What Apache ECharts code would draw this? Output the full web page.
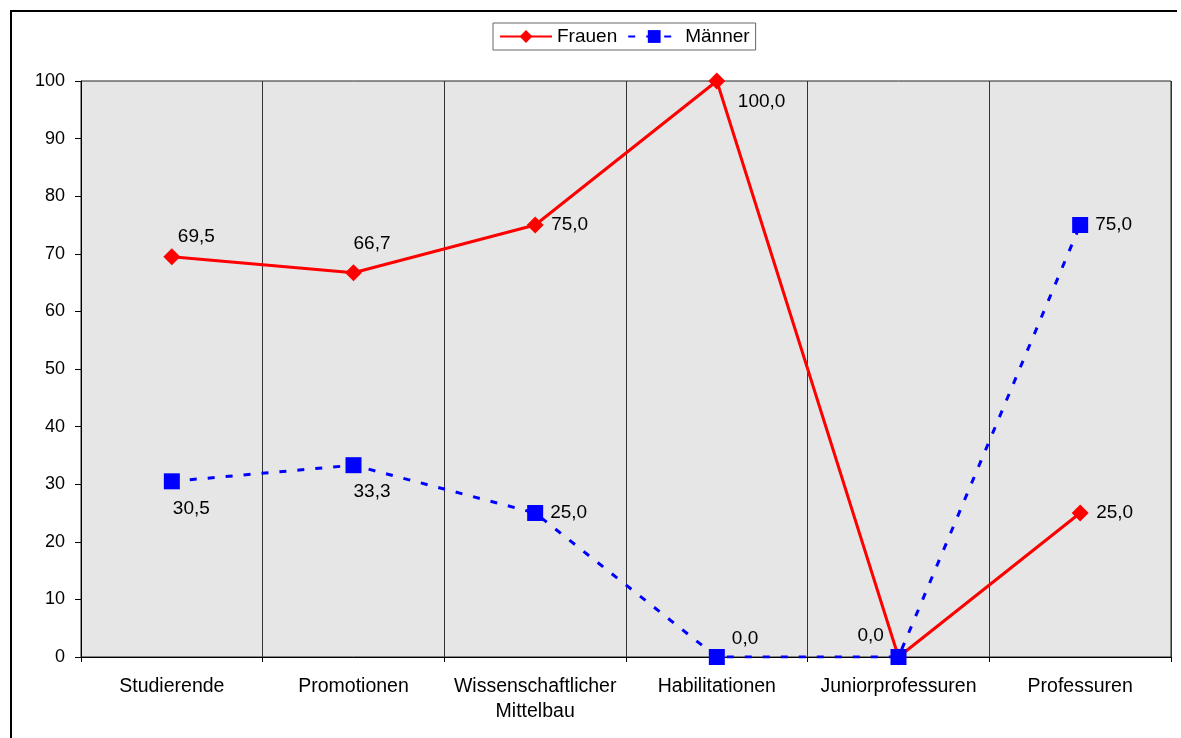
<!DOCTYPE html>
<html>
<head>
<meta charset="utf-8">
<script src="https://cdn.jsdelivr.net/npm/echarts@6/dist/echarts.min.js"></script>
<style>
  html, body { margin: 0; padding: 0; background: #fff; }
  #chart { width: 1181px; height: 738px; }
</style>
</head>
<body>
<div id="chart"></div>
<script>
// Share of women and men by qualification level (percent)
const categories = ['Studierende', 'Promotionen', 'Wissenschaftlicher\nMittelbau', 'Habilitationen', 'Juniorprofessuren', 'Professuren'];
const frauen = [69.5, 66.7, 75.0, 100.0, 0.0, 25.0];
const maenner = [30.5, 33.3, 25.0, 0.0, 0.0, 75.0];
const yTicks = { min: 0, max: 100, interval: 10 };

// Label placement (pixel offsets from each marker, text anchored at its left edge)
const frauenLabelOffsets = [[6, -20], [0, -29], [16, 0], [21, 21], [-41, -21], [16, 0]];
const maennerLabelOffsets = [[1, 27], [0, 27], [15, 0], [15, -18], null, [15, 0]];

const FONT = '"Liberation Sans", Arial, sans-serif';
const fmt = v => v.toFixed(1).replace('.', ',');

function withLabels(values, offsets) {
  return values.map((v, i) => {
    const off = offsets[i];
    if (!off) return { value: v, label: { show: false } };
    return {
      value: v,
      label: {
        show: true,
        position: 'inside',
        align: 'left',
        verticalAlign: 'middle',
        offset: off
      }
    };
  });
}

const labelStyle = {
  show: true,
  color: '#000',
  fontFamily: FONT,
  fontSize: 19,
  formatter: p => fmt(p.value)
};

const chart = echarts.init(document.getElementById('chart'), null, { renderer: 'canvas' });
chart.setOption({
  animation: false,
  backgroundColor: '#fff',
  textStyle: { fontFamily: FONT },
  graphic: [
    { type: 'line', shape: { x1: 11, y1: 11, x2: 1177, y2: 11 }, style: { stroke: '#000', lineWidth: 2 }, z: 10 },
    { type: 'line', shape: { x1: 11, y1: 10, x2: 11, y2: 738 }, style: { stroke: '#000', lineWidth: 2 }, z: 10 }
  ],
  legend: {
    left: 493,
    top: 23,
    padding: [4, 6, 4, 6],
    itemGap: 10,
    itemWidth: 52,
    itemHeight: 16,
    borderColor: '#666',
    borderWidth: 1,
    textStyle: { color: '#000', fontSize: 19, fontFamily: FONT },
    data: ['Frauen', 'Männer']
  },
  grid: {
    left: 81, right: 10, top: 81, bottom: 81,
    show: true,
    backgroundColor: '#e6e6e6',
    borderColor: '#222',
    borderWidth: 1
  },
  xAxis: {
    type: 'category',
    data: categories,
    boundaryGap: true,
    axisLine: { lineStyle: { color: '#000', width: 1 } },
    axisTick: { show: true, length: 5, lineStyle: { color: '#000' } },
    splitLine: { show: true, interval: 0, lineStyle: { color: '#333', width: 1 } },
    axisLabel: {
      interval: 0,
      color: '#000',
      fontSize: 19.5,
      fontFamily: FONT,
      lineHeight: 25,
      margin: 17
    }
  },
  yAxis: {
    type: 'value',
    min: yTicks.min,
    max: yTicks.max,
    interval: yTicks.interval,
    axisLine: { show: true, lineStyle: { color: '#000', width: 1 } },
    axisTick: { show: true, length: 6, lineStyle: { color: '#000' } },
    splitLine: { show: false },
    axisLabel: { color: '#000', fontSize: 18, fontFamily: FONT, margin: 16 }
  },
  series: [
    {
      name: 'Frauen',
      type: 'line',
      data: withLabels(frauen, frauenLabelOffsets),
      symbol: 'diamond',
      symbolSize: 17,
      lineStyle: { color: '#ff0000', width: 3 },
      itemStyle: { color: '#ff0000' },
      label: labelStyle,
      z: 3
    },
    {
      name: 'Männer',
      type: 'line',
      data: withLabels(maenner, maennerLabelOffsets),
      symbol: 'rect',
      symbolSize: 16,
      lineStyle: { color: '#0000ff', width: 3, type: [7, 11] },
      itemStyle: { color: '#0000ff' },
      label: labelStyle,
      z: 4
    }
  ]
});
</script>
</body>
</html>
